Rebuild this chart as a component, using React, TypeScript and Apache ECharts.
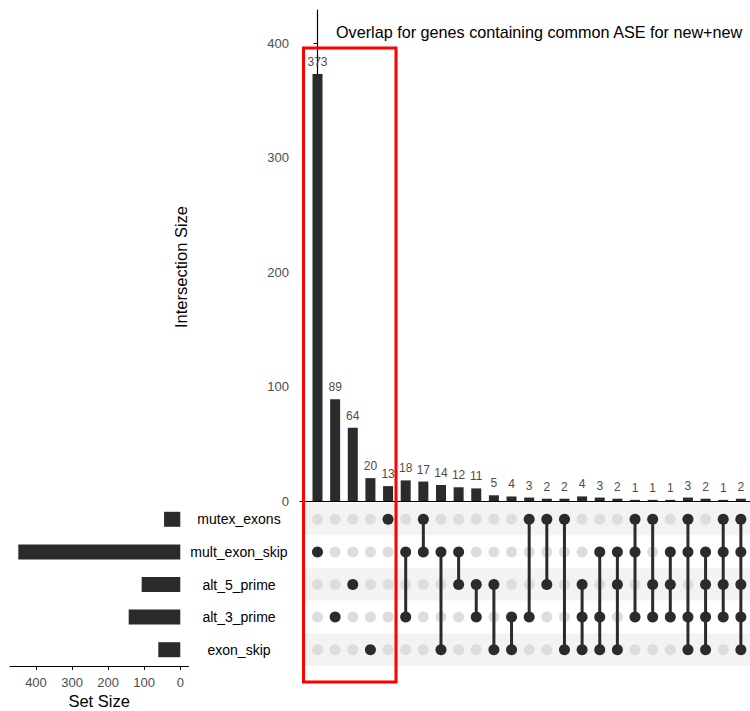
import React, { useEffect, useRef } from "react";
import * as echarts from "echarts";

// Sets (top to bottom in the matrix) and their sizes
const setNames = ["mutex_exons", "mult_exon_skip", "alt_5_prime", "alt_3_prime", "exon_skip"];
const setSizes = [45, 449, 107, 143, 61];

// Intersections, left to right
const intersectionSizes = [373, 89, 64, 20, 13, 18, 17, 14, 12, 11, 5, 4, 3, 2, 2, 4, 3, 2, 1, 1, 1, 3, 2, 1, 2];
const intersectionSets: string[][] = [
  ["mult_exon_skip"],
  ["alt_3_prime"],
  ["alt_5_prime"],
  ["exon_skip"],
  ["mutex_exons"],
  ["mult_exon_skip", "alt_3_prime"],
  ["mutex_exons", "mult_exon_skip"],
  ["mult_exon_skip", "exon_skip"],
  ["mult_exon_skip", "alt_5_prime"],
  ["alt_5_prime", "alt_3_prime"],
  ["alt_5_prime", "exon_skip"],
  ["alt_3_prime", "exon_skip"],
  ["mutex_exons", "alt_3_prime"],
  ["mutex_exons", "alt_5_prime"],
  ["mutex_exons", "exon_skip"],
  ["alt_5_prime", "alt_3_prime", "exon_skip"],
  ["mult_exon_skip", "alt_3_prime", "exon_skip"],
  ["mult_exon_skip", "alt_5_prime", "exon_skip"],
  ["mutex_exons", "mult_exon_skip", "alt_3_prime"],
  ["mutex_exons", "alt_5_prime", "alt_3_prime"],
  ["mult_exon_skip", "alt_5_prime", "alt_3_prime"],
  ["mutex_exons", "mult_exon_skip", "alt_3_prime", "exon_skip"],
  ["mult_exon_skip", "alt_5_prime", "alt_3_prime", "exon_skip"],
  ["mutex_exons", "mult_exon_skip", "alt_5_prime", "alt_3_prime"],
  ["mutex_exons", "mult_exon_skip", "alt_5_prime", "alt_3_prime", "exon_skip"],
];

const setSizeTicks = [0, 100, 200, 300, 400];

const titleText = "Overlap for genes containing common ASE for new+new";

const FONT = "'Liberation Sans', Arial, Helvetica, sans-serif";
const DARK = "#2b2b2b";
const AXIS_TEXT = "#4d4d4d";

// Column geometry shared by the bar panel and the matrix panel
const COL_STEP = 17.64;
const FIRST_COL = 317.5;
const W = 750;
const H = 711;

function colRange(left: number, right: number) {
  const min = -(FIRST_COL - left) / COL_STEP;
  const max = min + (right - left) / COL_STEP;
  return { min, max };
}

export default function App() {
  const ref = useRef<HTMLDivElement>(null);

  useEffect(() => {
    if (!ref.current) return;
    const chart = echarts.init(ref.current, null, { renderer: "svg" });

    const barRange = colRange(300, W);
    const matRange = colRange(303, W);

    const grayDots: number[][] = [];
    const blackDots: number[][] = [];
    const links: number[][] = [];
    intersectionSets.forEach((members, i) => {
      const rows = members.map((m) => setNames.indexOf(m));
      setNames.forEach((_, r) => {
        if (rows.includes(r)) blackDots.push([i, r]);
        else grayDots.push([i, r]);
      });
      if (rows.length > 1) links.push([i, Math.min(...rows), Math.max(...rows)]);
    });

    const option: any = {
      animation: false,
      backgroundColor: "#ffffff",
      textStyle: { fontFamily: FONT },
      title: {
        text: titleText,
        left: 336,
        top: 24,
        padding: 0,
        textStyle: { fontFamily: FONT, fontSize: 16.2, fontWeight: "normal", color: "#000000" },
      },
      grid: [
        { left: 300, width: W - 300, top: 10, height: 491 },
        { left: 303, width: W - 303, top: 503, height: 163 },
        { left: 10, width: 178.3, top: 503, height: 163 },
      ],
      xAxis: [
        {
          gridIndex: 0,
          type: "value",
          min: barRange.min,
          max: barRange.max,
          axisLine: { show: true, onZero: false, lineStyle: { color: "#000000", width: 1.2 } },
          axisTick: { show: false },
          axisLabel: { show: false },
          splitLine: { show: false },
        },
        {
          gridIndex: 1,
          type: "value",
          min: matRange.min,
          max: matRange.max,
          show: false,
        },
        {
          gridIndex: 2,
          type: "value",
          inverse: true,
          min: -22.2,
          max: 472,
          position: "bottom",
          axisLine: { show: true, onZero: false, lineStyle: { color: "#000000", width: 1.2 } },
          axisTick: { show: true, length: 4, customValues: setSizeTicks, lineStyle: { color: "#000000" } },
          axisLabel: { show: true, customValues: setSizeTicks, margin: 10, color: AXIS_TEXT, fontSize: 13, fontFamily: FONT },
          splitLine: { show: false },
          name: "Set Size",
          nameLocation: "middle",
          nameGap: 26,
          nameTextStyle: { fontSize: 16.5, color: "#000000", fontFamily: FONT },
        },
      ],
      yAxis: [
        {
          gridIndex: 0,
          type: "value",
          min: 0,
          max: 429,
          interval: 100,
          axisLine: { show: true, lineStyle: { color: "#000000", width: 1.2 } },
          axisTick: { show: true, length: 4, lineStyle: { color: "#000000" } },
          axisLabel: { color: AXIS_TEXT, fontSize: 13, margin: 11, fontFamily: FONT, showMaxLabel: false },
          splitLine: { show: false },
        },
        {
          gridIndex: 1,
          type: "category",
          data: setNames,
          inverse: true,
          axisLine: { show: false },
          axisTick: { show: false },
          axisLabel: { show: true, align: "center", margin: 64, color: "#000000", fontSize: 14, fontFamily: FONT },
          splitLine: { show: false },
          splitArea: { show: true, areaStyle: { color: ["#f3f3f3", "#ffffff"] } },
        },
        {
          gridIndex: 2,
          type: "category",
          data: setNames,
          inverse: true,
          show: false,
        },
      ],
      series: [
        {
          type: "bar",
          xAxisIndex: 0,
          yAxisIndex: 0,
          barWidth: 10,
          data: intersectionSizes.map((v, i) => [i, v]),
          itemStyle: { color: DARK },
          label: {
            show: true,
            position: "top",
            distance: 6,
            color: AXIS_TEXT,
            fontSize: 12,
            fontFamily: FONT,
            formatter: (p: any) => String(p.value[1]),
          },
        },
        {
          type: "scatter",
          xAxisIndex: 1,
          yAxisIndex: 1,
          symbolSize: 11,
          data: grayDots,
          itemStyle: { color: "#dddddd", opacity: 1 },
          z: 2,
        },
        {
          type: "custom",
          xAxisIndex: 1,
          yAxisIndex: 1,
          data: links,
          encode: { x: 0, y: [1, 2] },
          z: 3,
          renderItem: (_params: any, api: any) => {
            const x = api.value(0);
            const p0 = api.coord([x, api.value(1)]);
            const p1 = api.coord([x, api.value(2)]);
            return {
              type: "line",
              shape: { x1: p0[0], y1: p0[1], x2: p1[0], y2: p1[1] },
              style: { stroke: DARK, lineWidth: 3 },
            };
          },
        },
        {
          type: "scatter",
          xAxisIndex: 1,
          yAxisIndex: 1,
          symbolSize: 11,
          data: blackDots,
          itemStyle: { color: DARK, opacity: 1 },
          z: 4,
        },
        {
          type: "bar",
          xAxisIndex: 2,
          yAxisIndex: 2,
          barWidth: 15,
          data: setSizes,
          itemStyle: { color: DARK },
        },
      ],
      graphic: [
        {
          type: "text",
          x: 181,
          y: 267,
          rotation: Math.PI / 2,
          style: {
            text: "Intersection Size",
            fontSize: 16.5,
            fontFamily: FONT,
            fill: "#000000",
            align: "center",
            verticalAlign: "middle",
          },
        },
        {
          type: "rect",
          z: 100,
          shape: { x: 303.5, y: 48, width: 92.5, height: 634 },
          style: { fill: "none", stroke: "#ff0000", lineWidth: 3 },
        },
      ],
    };

    chart.setOption(option);
    return () => chart.dispose();
  }, []);

  return (
    <div
      ref={ref}
      style={{ position: "fixed", left: 0, top: 0, width: W, height: H, background: "#ffffff" }}
    />
  );
}
